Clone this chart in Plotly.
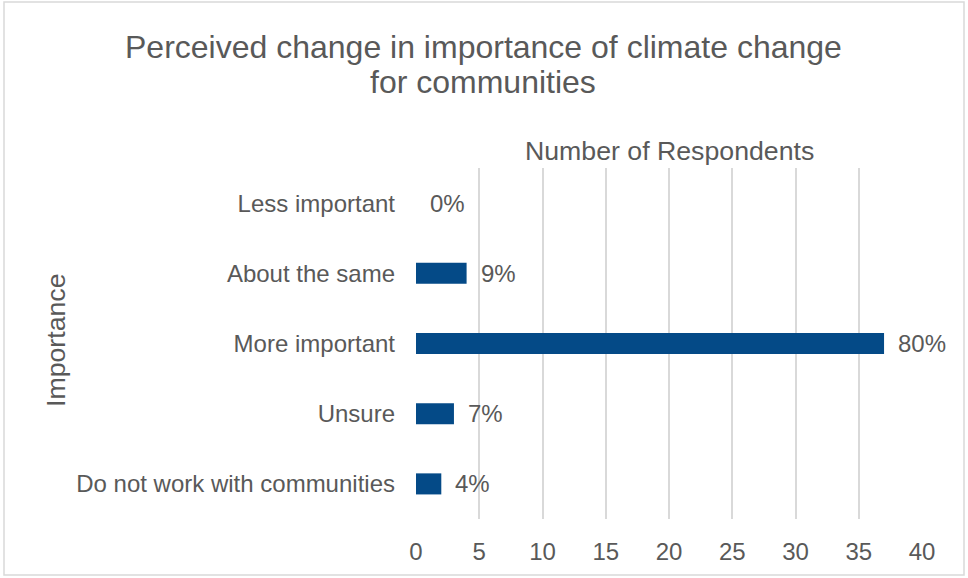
import plotly.graph_objects as go

# Survey responses
categories = ["Less important", "About the same", "More important", "Unsure",
              "Do not work with communities"]
counts = [0, 4, 37, 3, 2]
x_ticks = [0, 5, 10, 15, 20, 25, 30, 35, 40]
title_lines = ["Perceived change in importance of climate change", "for communities"]

total = sum(counts)
pct_labels = [f"{round(c / total * 100)}%" for c in counts]

W, H = 968, 578
L, R, T, B = 416, 46, 168, 59
pw, ph = W - L - R, H - T - B

text_color = "#595959"
font_family = "Liberation Sans, Arial, sans-serif"


def px_to_paper_x(px):
    return (px - L) / pw


def px_to_paper_y(py):
    return 1 - (py - T) / ph


fig = go.Figure()
fig.add_trace(go.Bar(
    y=categories,
    x=counts,
    orientation="h",
    width=0.3,
    marker=dict(color="#044a87", line=dict(width=0)),
    hoverinfo="skip",
))

# Percentage labels next to each bar
for cat, c, lab in zip(categories, counts, pct_labels):
    fig.add_annotation(x=c, y=cat, text=lab, showarrow=False,
                       xanchor="left", yanchor="middle", xshift=12,
                       font=dict(size=24, color=text_color, family=font_family))

# Two-line chart title
for line, cy in zip(title_lines, [47, 82]):
    fig.add_annotation(x=px_to_paper_x(483), y=px_to_paper_y(cy),
                       xref="paper", yref="paper", text=line, showarrow=False,
                       xanchor="center", yanchor="middle",
                       font=dict(size=32, color=text_color, family=font_family))

fig.add_annotation(x=0.5, y=px_to_paper_y(151), xref="paper", yref="paper",
                   text="Number of Respondents", showarrow=False,
                   xanchor="center", yanchor="middle",
                   font=dict(size=26.7, color=text_color, family=font_family))

fig.add_annotation(x=px_to_paper_x(56), y=px_to_paper_y(340), xref="paper", yref="paper",
                   text="Importance", showarrow=False, textangle=-90,
                   xanchor="center", yanchor="middle",
                   font=dict(size=26.7, color=text_color, family=font_family))

# Chart border
fig.add_shape(type="rect", xref="paper", yref="paper",
              x0=px_to_paper_x(4), x1=px_to_paper_x(964),
              y0=px_to_paper_y(575), y1=px_to_paper_y(2),
              line=dict(color="#d9d9d9", width=1.5), layer="below")

fig.update_layout(
    width=W, height=H,
    margin=dict(l=L, r=R, t=T, b=B),
    paper_bgcolor="white", plot_bgcolor="white",
    showlegend=False,
    font=dict(family=font_family, color=text_color),
    xaxis=dict(
        range=[0, 40], tickvals=x_ticks, showgrid=True,
        gridcolor="#d9d9d9", gridwidth=1.5, zeroline=False,
        showline=False, ticks="", ticklabelstandoff=16,
        tickfont=dict(size=24, color=text_color, family=font_family),
    ),
    yaxis=dict(
        categoryorder="array", categoryarray=categories[::-1],
        showgrid=False, zeroline=False, showline=False, ticks="",
        ticklabelstandoff=20,
        tickfont=dict(size=24, color=text_color, family=font_family),
    ),
)

fig.write_html("out.html")
